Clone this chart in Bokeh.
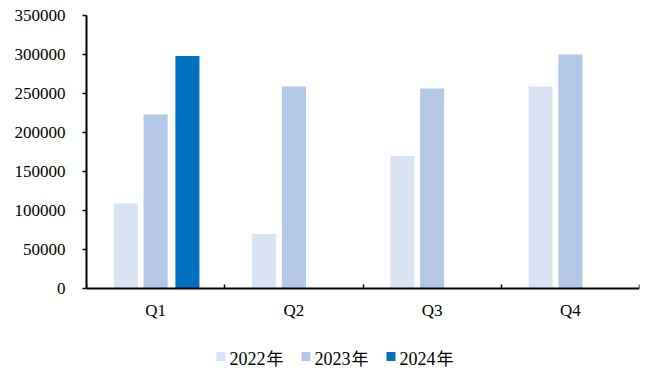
from bokeh.plotting import figure
from bokeh.models import (ColumnDataSource, FixedTicker, Range1d,
                          BasicTickFormatter, LinearAxis)
from bokeh.core.properties import value
from bokeh.embed import file_html
from bokeh.resources import INLINE

# Quarterly values per year
quarters = ["Q1", "Q2", "Q3", "Q4"]
years = ["2022", "2023", "2024"]
year_suffix = "年"
values_2022 = [109000, 70000, 170000, 259000]
values_2023 = [223000, 259000, 256500, 300000]
values_2024 = [298000, None, None, None]
y_ticks = [0, 50000, 100000, 150000, 200000, 250000, 300000, 350000]
y_max = 350000

colors = ["#DAE3F3", "#B4C7E7", "#0070C0"]
offsets = [-0.215, 0.0, 0.23]
bar_width = 0.174

FONT = "Liberation Serif"
CJK_FONT = "Noto Sans CJK SC"

# The frame runs to the bottom of the canvas so that the category axis
# (pinned at y=0) and the key beneath it both sit inside it.
W, H = 649, 370
TOP, LEFT, RIGHT = 15, 86, 10
value_px = 273            # pixel height of the 0..y_max band
frame_px = H - TOP
frame_w = W - LEFT - RIGHT
y_min = -y_max * (frame_px - value_px) / value_px


def px_x(px):
    return (px - LEFT) / frame_w * len(quarters)


def px_y(py):
    return y_max - (py - TOP) / value_px * y_max


p = figure(width=W, height=H, output_backend="svg", toolbar_location=None,
           x_range=Range1d(0, len(quarters)), y_range=Range1d(y_min, y_max),
           x_axis_location=None, y_axis_location=None,
           min_border_left=LEFT, min_border_right=RIGHT, min_border_top=TOP,
           min_border_bottom=0)
p.outline_line_color = None
p.xgrid.visible = False
p.ygrid.visible = False
p.background_fill_color = "white"
p.border_fill_color = "white"

for series, color, off in zip([values_2022, values_2023, values_2024], colors, offsets):
    xs, tops = [], []
    for i, v in enumerate(series):
        if v is not None:
            xs.append(i + 0.5 + off)
            tops.append(v)
    src = ColumnDataSource(dict(x=xs, top=tops))
    p.vbar(x="x", top="top", width=bar_width, bottom=0, source=src,
           fill_color=color, line_color=None)

# category axis at y=0: labels at category centres, short inward ticks at borders
xa = LinearAxis(fixed_location=0)
xa.ticker = FixedTicker(ticks=[i + 0.5 for i in range(len(quarters))],
                        minor_ticks=list(range(len(quarters) + 1)))
xa.major_label_overrides = {i + 0.5: q for i, q in enumerate(quarters)}
xa.major_tick_in = 0
xa.major_tick_out = 0
xa.minor_tick_in = 4
xa.minor_tick_out = 0
xa.minor_tick_line_color = "black"
xa.minor_tick_line_width = 1.5
xa.axis_line_color = "black"
xa.axis_line_width = 2
xa.major_label_text_font = FONT
xa.major_label_text_font_size = "17px"
xa.major_label_text_color = "black"
xa.major_label_standoff = 12
p.add_layout(xa, "below")

ya = LinearAxis(bounds=(0, y_max))
ya.ticker = FixedTicker(ticks=y_ticks)
ya.formatter = BasicTickFormatter(use_scientific=False)
ya.major_tick_in = 0
ya.major_tick_out = 4
ya.minor_tick_line_color = None
ya.major_tick_line_color = "black"
ya.major_tick_line_width = 1.5
ya.axis_line_color = "black"
ya.axis_line_width = 2
ya.major_label_text_font = FONT
ya.major_label_text_font_size = "17px"
ya.major_label_text_color = "black"
ya.major_label_standoff = 17
p.add_layout(ya, "left")

# key row under the axis: colour swatch, year digits, then the 年 suffix
key_left_px = 216
key_step_px = 85
key_y_px = 356
digits_px = 36            # four serif digits at 18px
n = len(years)
key = ColumnDataSource(dict(
    x=[px_x(key_left_px + 4.5 + i * key_step_px) for i in range(n)],
    tx=[px_x(key_left_px + 13 + i * key_step_px) for i in range(n)],
    sx=[px_x(key_left_px + 13 + digits_px + 1 + i * key_step_px) for i in range(n)],
    y=[px_y(key_y_px)] * n,
    ty=[px_y(key_y_px + 2)] * n,
    sy=[px_y(key_y_px + 1)] * n,
    label=years,
    suffix=[year_suffix] * n,
    color=colors,
))
p.scatter(x="x", y="y", marker="square", size=9, fill_color="color",
          line_color=None, source=key)
p.text(x="tx", y="ty", text="label", source=key, text_align="left",
       text_baseline="middle", text_font=value(FONT), text_font_size="18px",
       text_color="black")
p.text(x="sx", y="sy", text="suffix", source=key, text_align="left",
       text_baseline="middle", text_font=value(CJK_FONT), text_font_size="17px",
       text_color="black")

open("out.html", "w").write(file_html(p, INLINE))
